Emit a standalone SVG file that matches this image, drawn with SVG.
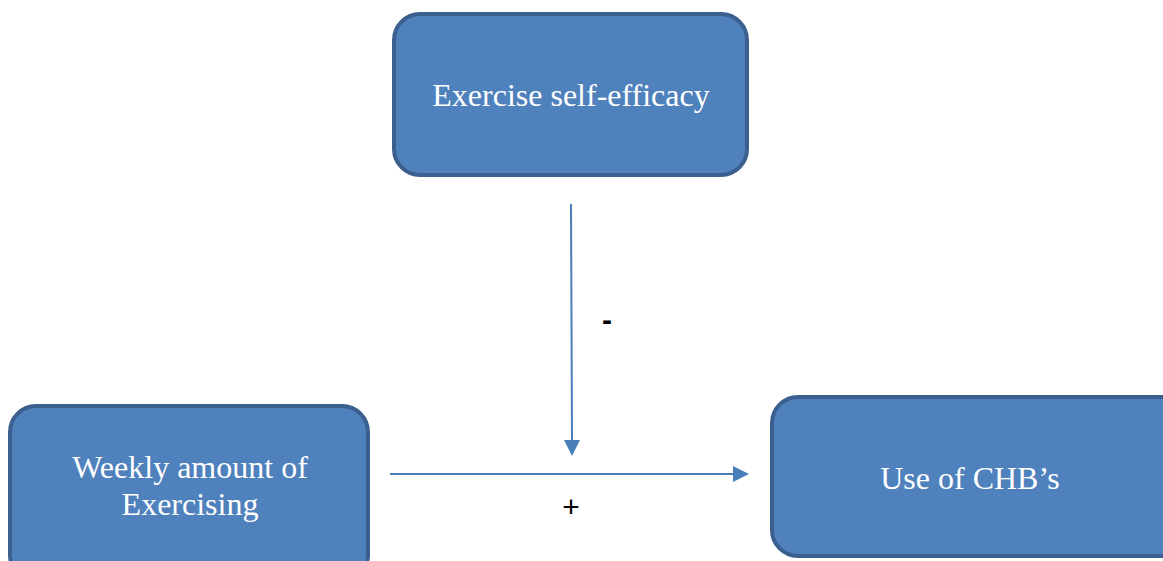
<svg xmlns="http://www.w3.org/2000/svg" width="1163" height="561" viewBox="0 0 1163 561">
<style>
.box{fill:#4f81bd;stroke:#3b5f8e;stroke-width:4}
.lbl{font-family:"Liberation Serif","Times New Roman",serif;font-size:32px;fill:#ffffff;text-anchor:middle}
.sign{font-family:"Liberation Sans",Arial,sans-serif;font-size:30px;fill:#000;text-anchor:middle}
.conn{stroke:#4a7ebb;stroke-width:2;fill:none}
</style>
<rect width="1163" height="561" fill="#ffffff"/>
<g id="connectors">
<line class="conn" x1="571" y1="204" x2="572" y2="440"/>
<path d="M564,440 L580,440 L572,456 Z" fill="#4a7ebb"/>
<line class="conn" x1="390" y1="474" x2="734" y2="474"/>
<path d="M733,466 L749,474 L733,482 Z" fill="#4a7ebb"/>
<text class="sign" x="607" y="330" font-weight="bold">-</text>
<text class="sign" x="571" y="517">+</text>
</g>
<g id="node-efficacy">
<rect class="box" x="394" y="14" width="353" height="161" rx="26"/>
<text class="lbl" x="571" y="106">Exercise self-efficacy</text>
</g>
<g id="node-weekly">
<rect class="box" x="10" y="406" width="358" height="175" rx="26"/>
<text class="lbl" x="190" y="478">Weekly amount of</text>
<text class="lbl" x="190" y="515">Exercising</text>
</g>
<g id="node-chb">
<rect class="box" x="772" y="397" width="420" height="159" rx="26"/>
<text class="lbl" x="970" y="489">Use of CHB’s</text>
</g>
</svg>
